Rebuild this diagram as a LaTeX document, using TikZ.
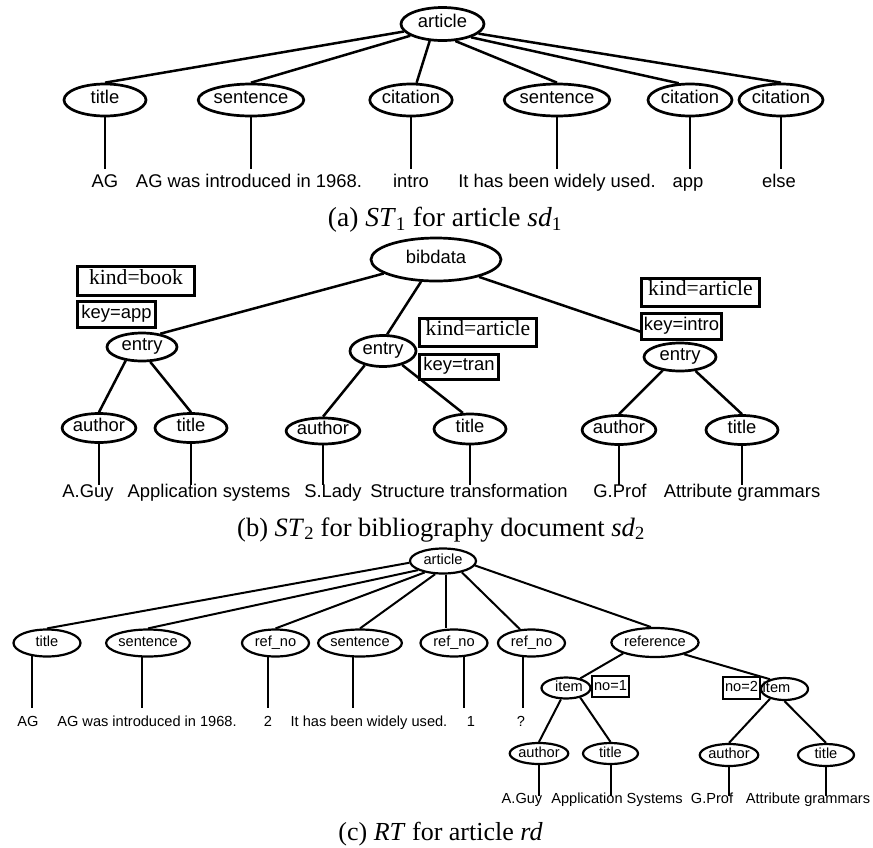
\documentclass[tikz,border=0pt]{standalone}
\usepackage{fontspec}
\setmainfont{Liberation Serif}
\newfontfamily\arial{Liberation Sans}
\usetikzlibrary{shapes.geometric,calc}
\newcommand\myfa{\arial\fontsize{18.4}{22}\selectfont}
\newcommand\myfc{\arial\fontsize{14.6}{17}\selectfont}
\newcommand\myfk{\fontsize{21.6}{25}\selectfont}
\tikzset{
  ea/.style={draw, ellipse, line width=2.7pt, inner sep=0pt, font=\myfa, text height=.72em, text depth=0pt},
  ec/.style={draw, ellipse, line width=2.2pt, inner sep=0pt, font=\myfc, text height=.72em, text depth=0pt},
  sz/.style 2 args={minimum width=#1pt, minimum height=#2pt},
  boxk/.style={draw, rectangle, line width=2.7pt, inner sep=0pt, font=\myfk, text height=.68em, text depth=0pt},
  boxa/.style={draw, rectangle, line width=2.7pt, inner sep=0pt, font=\myfa, text height=.72em, text depth=0pt},
  boxc/.style={draw, rectangle, line width=2.2pt, inner sep=0pt, font=\myfc, text height=.72em, text depth=0pt},
  lna/.style={line width=2.5pt},
  lnc/.style={line width=2pt},
  leafa/.style={font=\myfa, anchor=base, text height=.72em, text depth=.2em, inner xsep=0pt, inner ysep=10.8pt},
  leafb/.style={font=\myfa, anchor=base, text height=.72em, text depth=.2em, inner xsep=0pt, inner ysep=4.8pt},
  leafc/.style={font=\myfc, anchor=base, text height=.72em, text depth=.2em, inner xsep=0pt, inner ysep=10.5pt},
  leafd/.style={font=\myfc, anchor=base, text height=.72em, text depth=.2em, inner xsep=0pt, inner ysep=0pt},
  capt/.style={anchor=base, inner sep=0pt},
}
\begin{document}
\begin{tikzpicture}[x=1pt,y=-1pt]
\fill[white] (0,0) rectangle (873,847);
\useasboundingbox (0,0) rectangle (873,847);

% ---------------- (a) ----------------
\node[ea, sz={83}{33}] (A) at (442.5,24) {article};
\node[ea, sz={82}{32}] (At1) at (105,100) {title};
\node[ea, sz={82}{32}] (As1) at (251,100) {sentence};
\node[ea, sz={82}{32}] (Ac1) at (411,100) {citation};
\node[ea, sz={82}{32}] (As2) at (557,100) {sentence};
\node[ea, sz={84}{32}] (Ac2) at (690,100) {citation};
\node[ea, sz={84}{32}] (Ac3) at (781,100) {citation};

\draw[lna] (A.191) -- (At1.north);
\draw[lna] (A.200) -- (As1.north);
\draw[lna] (A.233) -- (Ac1.72);
\draw[lna] (A.307) -- (As2.north);
\draw[lna] (A.335) -- (Ac2.124);
\draw[lna] (A.345) -- (Ac3.north);

\node[leafa] (Lt1) at (105,187) {AG};
\node[leafa] (Ls1) at (249,187) {AG was introduced in 1968.};
\node[leafa] (Lc1) at (411,187) {intro};
\node[leafa] (Ls2) at (557,187) {It has been widely used.};
\node[leafa] (Lc2) at (688,187) {app};
\node[leafa] (Lc3) at (779,187) {else};

\foreach \n/\l in {At1/Lt1, As1/Ls1, Ac1/Lc1, As2/Ls2, Ac2/Lc2, Ac3/Lc3}
  \draw[lna] (\n.south) -- (\n.south |- \l.north);

\node[capt, font=\fontsize{27.5}{30}\selectfont] (capa) at (445,226)
  {(a) \textit{ST}\textsubscript{1} for article \textit{sd}\textsubscript{1}};

% ---------------- (b) ----------------
\node[ea, sz={130}{43}] (B) at (436,259.5) {bibdata};
\node[boxk, sz={117}{29}] (kb1) at (136,281) {kind=book};
\node[boxa, sz={78}{26}] (kk1) at (116.5,314.5) {key=app};
\node[boxk, sz={117}{28}] (kb2) at (478,332.5) {kind=article};
\node[boxa, sz={79}{25}] (kk2) at (459,367) {key=tran};
\node[boxk, sz={118}{28}] (kb3) at (700.5,292.5) {kind=article};
\node[boxa, sz={80}{26}] (kk3) at (681.5,326.5) {key=intro};

\node[ea, sz={70}{28}] (E1) at (142,347) {entry};
\node[ea, sz={66}{31}] (E2) at (383,351) {entry};
\node[ea, sz={72}{28}] (E3) at (680,357) {entry};

\node[ea, sz={72}{29}] (Ba1) at (99,428) {author};
\node[ea, sz={72}{29}] (Bt1) at (191,428) {title};
\node[ea, sz={70}{26}] (Ba2) at (323,431) {author};
\node[ea, sz={72}{30}] (Bt2) at (470,429) {title};
\node[ea, sz={70}{29}] (Ba3) at (619,430) {author};
\node[ea, sz={72}{29}] (Bt3) at (742,430) {title};

\draw[lna] (B.195) -- (E1.36);
\draw[lna] (B.236) -- (E2.76);
\draw[lna] (B.338) -- (kk3.187);
\draw[lna] (E1.220) -- (Ba1.north);
\draw[lna] (E1.299) -- (Bt1.north);
\draw[lna] (E2.218) -- (Ba2.north);
\draw[lna] (E2.324) -- (Bt2.114);
\draw[lna] (E3.218) -- (Ba3.north);
\draw[lna] (E3.318) -- (Bt3.north);

\node[leafb] (La1) at (88,497) {A.Guy};
\node[leafb] (Lb1) at (209,497) {Application systems};
\node[leafb] (La2) at (333,497) {S.Lady};
\node[leafb] (Lb2) at (469,497) {Structure transformation};
\node[leafb] (La3) at (620,497) {G.Prof};
\node[leafb] (Lb3) at (742,497) {Attribute grammars};

\foreach \n/\l in {Ba1/La1, Bt1/Lb1, Ba2/La2, Bt2/Lb2, Ba3/La3, Bt3/Lb3}
  \draw[lna] (\n.south) -- (\n.south |- \l.north);

\node[capt, font=\fontsize{26.5}{29}\selectfont] (capb) at (441,536)
  {(b) \textit{ST}\textsubscript{2} for bibliography document \textit{sd}\textsubscript{2}};

% ---------------- (c) ----------------
\node[ec, sz={66}{25}] (C) at (443,561) {article};
\node[ec, sz={67}{27}] (Ct) at (47,643) {title};
\node[ec, sz={67}{27}] (Cs1) at (148,643) {sentence};
\node[ec, sz={67}{27}] (Cr1) at (275.5,643) {ref\_no};
\node[ec, sz={67}{27}] (Cs2) at (360,643) {sentence};
\node[ec, sz={67}{27}] (Cr2) at (454,643) {ref\_no};
\node[ec, sz={67}{27}] (Cr3) at (531.5,643) {ref\_no};
\node[ec, sz={78}{29}] (Cref) at (655,642.5) {reference};

\coordinate (Cv) at ([xshift=3pt]C.south);
\draw[lnc] (C.183) -- (Ct.north);
\draw[lnc] (C.200) -- (Cs1.north);
\draw[lnc] (C.212) -- (Cr1.north);
\draw[lnc] (C.239) -- (Cs2.north);
\draw[lnc] (Cv) -- (Cv |- Cr2.north);
\draw[lnc] (C.329.5) -- (Cr3.130);
\draw[lnc] (C.352) -- (Cref.105);

\node[leafc] (Mt) at (28,726) {AG};
\node[leafc] (Ms1) at (147,726) {AG was introduced in 1968.};
\node[leafc] (Mr1) at (268,726) {2};
\node[leafc] (Ms2) at (369,726) {It has been widely used.};
\node[leafc] (Mr2) at (471,726) {1};
\node[leafc] (Mr3) at (521,726) {?};

\draw[lnc] (Ct.221) -- (Ct.221 |- Mt.north);
\draw[lnc] (Cs1.247) -- (Cs1.247 |- Ms1.north);
\draw[lnc] (Cr1.242) -- (Cr1.242 |- Mr1.north);
\draw[lnc] (Cs2.243) -- (Cs2.243 |- Ms2.north);
\draw[lnc] (Cr2.305.7) -- (Cr2.305.7 |- Mr2.north);
\draw[lnc] (Cr3.239) -- (Cr3.239 |- Mr3.north);

\node[ec, sz={49}{21}] (I1) at (566,688) {\hspace*{3pt}item\hspace*{-3pt}};
\node[boxc, sz={37}{21}] (n1) at (610.5,686.5) {no=1};
\node[boxc, sz={37}{22}] (n2) at (741.5,688) {no=2};
\node[ec, sz={47}{22}] (I2) at (784.5,689) {\hspace*{-8pt}item\hspace*{8pt}};

\draw[lnc] (Cref.199) -- (I1.34);
\draw[lnc] (Cref.338) -- (I2.146);

\node[ec, sz={54}{21}] (Da1) at (539,753.5) {author};
\node[ec, sz={55}{21}] (Dt1) at (610.5,753.5) {title};
\node[ec, sz={56}{22}] (Da2) at (729,755) {author};
\node[ec, sz={56}{22}] (Dt2) at (826,755) {title};

\draw[lnc] (I1.246) -- (Da1.north);
\draw[lnc] (I1.326) -- (Dt1.north);
\draw[lnc] (I2.214) -- (Da2.north);
\draw[lnc] (I2.south) -- (Dt2.north);

\node[leafd] (Na1) at (522,803) {A.Guy};
\node[leafd] (Nt1) at (617,803) {Application Systems};
\node[leafd] (Na2) at (712,803) {G.Prof};
\node[leafd] (Nt2) at (808,803) {Attribute grammars};

\foreach \n/\l in {Da1/Na1, Dt1/Nt1, Da2/Na2, Dt2/Nt2}
  \draw[lnc] (\n.south) -- (\n.south |- \l.north);

\node[capt, font=\fontsize{26}{29}\selectfont] (capc) at (440.5,840)
  {(c) \textit{RT} for article \textit{rd}};
\end{tikzpicture}
\end{document}
